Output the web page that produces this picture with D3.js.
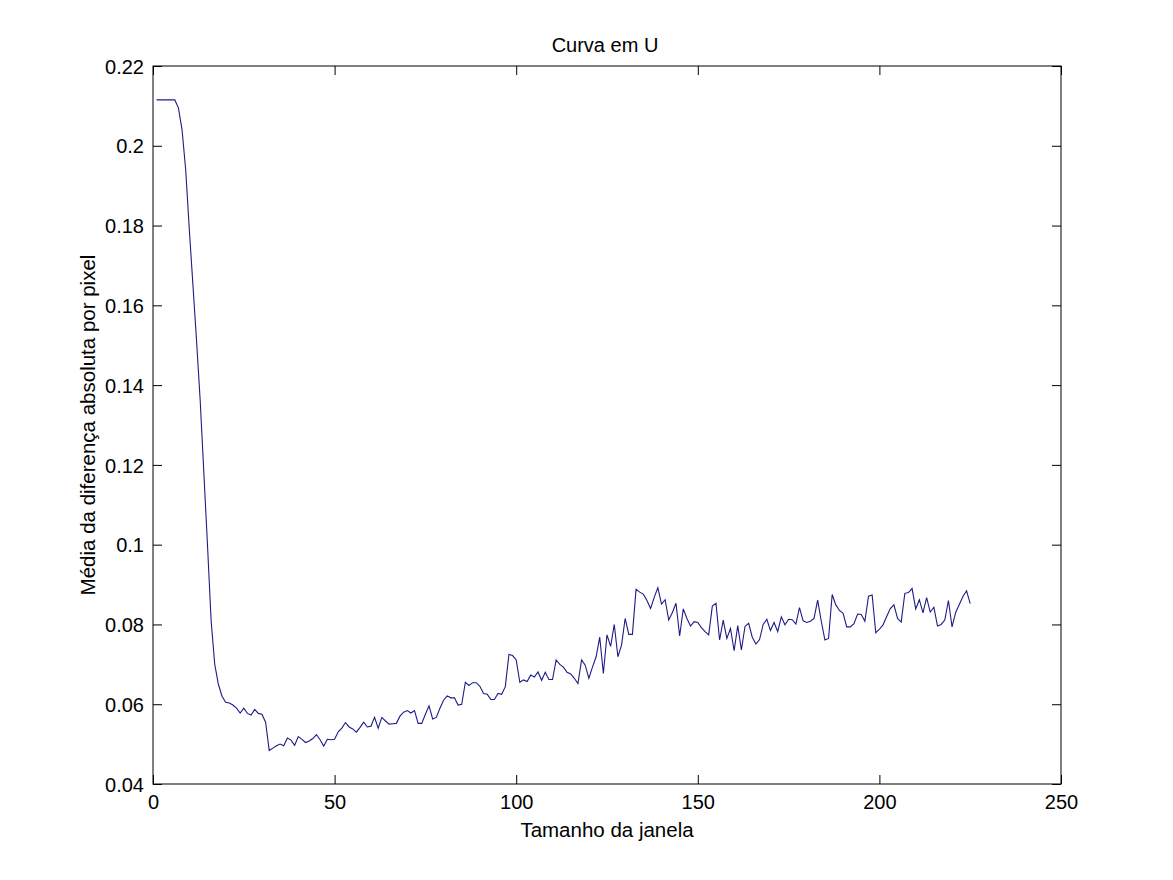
<!DOCTYPE html>
<html>
<head>
<meta charset="utf-8">
<script src="https://cdn.jsdelivr.net/npm/d3@7"></script>
<style>
  html, body { margin: 0; padding: 0; background: #fff; }
  svg { display: block; font-family: "Liberation Sans", Arial, sans-serif; }
</style>
</head>
<body>
<svg id="chart" width="1173" height="880"></svg>
<script>
const title = "Curva em U";
const xLabel = "Tamanho da janela";
const yLabel = "Média da diferença absoluta por pixel";
const xTicks = [0, 50, 100, 150, 200, 250];
const yTicks = [0.04, 0.06, 0.08, 0.1, 0.12, 0.14, 0.16, 0.18, 0.2, 0.22];
const yTickLabels = ["0.04", "0.06", "0.08", "0.1", "0.12", "0.14", "0.16", "0.18", "0.2", "0.22"];

const windowSizes = d3.range(1, 226);
const meanAbsDiff = [
  0.2115, 0.2115, 0.2115, 0.2115, 0.2115, 0.2115, 0.2095, 0.2040, 0.1940, 0.1790,
  0.1650, 0.1510, 0.1360, 0.1180, 0.1000, 0.0810, 0.0700, 0.0650, 0.0620, 0.0605,
  0.0603, 0.0598, 0.0590, 0.0578, 0.0590, 0.0577, 0.0573, 0.0587, 0.0577, 0.0575,
  0.0555, 0.0484, 0.0490, 0.0496, 0.0500, 0.0496, 0.0515, 0.0510, 0.0497, 0.0519,
  0.0512, 0.0504, 0.0508, 0.0514, 0.0524, 0.0511, 0.0495, 0.0512, 0.0511, 0.0512,
  0.0531, 0.0540, 0.0554, 0.0543, 0.0538, 0.0530, 0.0542, 0.0555, 0.0543, 0.0545,
  0.0567, 0.0540, 0.0567, 0.0558, 0.0550, 0.0551, 0.0552, 0.0570, 0.0580, 0.0584,
  0.0578, 0.0584, 0.0552, 0.0552, 0.0575, 0.0596, 0.0563, 0.0567, 0.0590, 0.0610,
  0.0621, 0.0616, 0.0616, 0.0598, 0.0600, 0.0655, 0.0647, 0.0654, 0.0654, 0.0645,
  0.0627, 0.0625, 0.0612, 0.0612, 0.0627, 0.0625, 0.0644, 0.0725, 0.0722, 0.0711,
  0.0655, 0.0661, 0.0657, 0.0673, 0.0668, 0.0681, 0.0660, 0.0680, 0.0662, 0.0662,
  0.0711, 0.0700, 0.0693, 0.0680, 0.0676, 0.0665, 0.0652, 0.0711, 0.0698, 0.0665,
  0.0693, 0.0719, 0.0768, 0.0677, 0.0774, 0.0745, 0.0800, 0.0719, 0.0748, 0.0815,
  0.0775, 0.0775, 0.0888, 0.0881, 0.0876, 0.0860, 0.0840, 0.0868, 0.0892, 0.0851,
  0.0862, 0.0811, 0.0830, 0.0853, 0.0771, 0.0839, 0.0815, 0.0796, 0.0807, 0.0805,
  0.0792, 0.0782, 0.0774, 0.0846, 0.0853, 0.0761, 0.0811, 0.0765, 0.0790, 0.0734,
  0.0797, 0.0736, 0.0795, 0.0803, 0.0768, 0.0751, 0.0762, 0.0800, 0.0813, 0.0785,
  0.0805, 0.0782, 0.0819, 0.0799, 0.0813, 0.0812, 0.0801, 0.0842, 0.0809, 0.0805,
  0.0808, 0.0815, 0.0861, 0.0808, 0.0761, 0.0765, 0.0875, 0.0849, 0.0835, 0.0828,
  0.0794, 0.0794, 0.0802, 0.0826, 0.0825, 0.0808, 0.0871, 0.0874, 0.0779, 0.0788,
  0.0799, 0.0820, 0.0840, 0.0849, 0.0815, 0.0806, 0.0878, 0.0880, 0.0890, 0.0839,
  0.0862, 0.0829, 0.0867, 0.0831, 0.0843, 0.0796, 0.0800, 0.0811, 0.0860, 0.0794,
  0.0830, 0.0850, 0.0870, 0.0884, 0.0852
];

const svg = d3.select("#chart");
const mLeft = 153, mRight = 1061, mTop = 66, mBottom = 784;
const x = d3.scaleLinear().domain([0, 250]).range([mLeft, mRight]);
const y = d3.scaleLinear().domain([0.04, 0.22]).range([mBottom, mTop]);
const tickLen = 9;
const fontSize = 20;
const fontFamily = "'Liberation Sans', Arial, sans-serif";

// frame
svg.append("rect")
  .attr("x", mLeft).attr("y", mTop)
  .attr("width", mRight - mLeft).attr("height", mBottom - mTop)
  .attr("fill", "none").attr("stroke", "#000").attr("stroke-width", 1);

// axes with inward ticks
const fmtY = d => yTickLabels[yTicks.indexOf(d)];
const gB = svg.append("g").attr("transform", `translate(0,${mBottom})`)
  .call(d3.axisBottom(x).tickValues(xTicks).tickSizeInner(-tickLen).tickSizeOuter(0).tickPadding(11).tickFormat(d3.format("d")));
const gT = svg.append("g").attr("transform", `translate(0,${mTop})`)
  .call(d3.axisTop(x).tickValues(xTicks).tickSizeInner(-tickLen).tickSizeOuter(0).tickFormat(""));
const gL = svg.append("g").attr("transform", `translate(${mLeft},0)`)
  .call(d3.axisLeft(y).tickValues(yTicks).tickSizeInner(-tickLen).tickSizeOuter(0).tickPadding(9).tickFormat(fmtY));
const gR = svg.append("g").attr("transform", `translate(${mRight},0)`)
  .call(d3.axisRight(y).tickValues(yTicks).tickSizeInner(-tickLen).tickSizeOuter(0).tickFormat(""));

[gB, gT, gL, gR].forEach(g => {
  g.select(".domain").remove();
  g.selectAll(".tick line").attr("stroke", "#000");
  g.selectAll(".tick text")
    .attr("fill", "#000")
    .attr("font-size", fontSize)
    .attr("font-family", fontFamily);
});
gL.selectAll(".tick text").attr("dy", "0.36em");

// line
const line = d3.line()
  .x((d, i) => x(windowSizes[i]))
  .y(d => y(d));
svg.append("path")
  .datum(meanAbsDiff)
  .attr("d", line)
  .attr("fill", "none")
  .attr("stroke", "#1c1c86")
  .attr("stroke-width", 1.1);

// title and labels
svg.append("text")
  .attr("x", 605).attr("y", 52)
  .attr("text-anchor", "middle").attr("font-size", fontSize)
  .attr("font-family", fontFamily)
  .text(title);
svg.append("text")
  .attr("x", (mLeft + mRight) / 2).attr("y", 837)
  .attr("text-anchor", "middle").attr("font-size", fontSize + 0.5)
  .attr("font-family", fontFamily)
  .text(xLabel);
svg.append("text")
  .attr("transform", `translate(95,${(mTop + mBottom) / 2}) rotate(-90)`)
  .attr("text-anchor", "middle").attr("font-size", fontSize + 0.5)
  .attr("font-family", fontFamily)
  .text(yLabel);
</script>
</body>
</html>
